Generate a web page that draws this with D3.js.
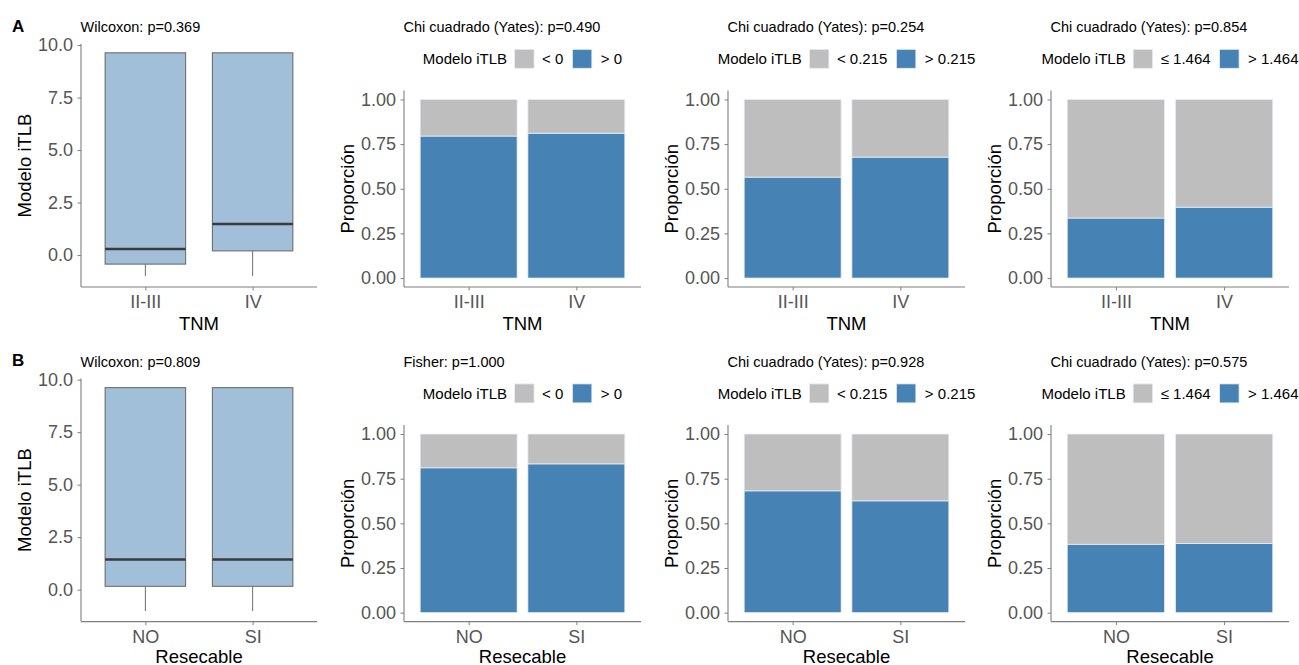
<!DOCTYPE html>
<html>
<head>
<meta charset="utf-8">
<script src="https://cdn.jsdelivr.net/npm/d3@7/dist/d3.min.js"></script>
<style>
  html, body { margin: 0; padding: 0; background: #fff; }
  svg { display: block; font-family: "Liberation Sans", Arial, sans-serif; }
</style>
</head>
<body>
<svg id="chart" width="1299" height="665"></svg>
<script>
// ---- data ----
const rowLabels = ["A", "B"];
const rowXTitles = ["TNM", "Resecable"];
const rowCategories = [["II-III", "IV"], ["NO", "SI"]];

// box summaries per row: [lower whisker, q1, median, q3, upper whisker]
const boxStatsTNM = [[-1.00, -0.43, 0.29, 9.63, 9.63], [-1.00, 0.20, 1.48, 9.63, 9.63]];
const boxStatsResecable = [[-1.02, 0.16, 1.44, 9.62, 9.62], [-1.02, 0.16, 1.44, 9.62, 9.62]];
const boxSubtitles = ["Wilcoxon: p=0.369", "Wilcoxon: p=0.809"];
const boxTicks = [0, 2.5, 5, 7.5, 10];

// proportion of the upper group (blue) for each cut-off, per row
const cutLowLabels = ["< 0", "< 0.215", "\u2264 1.464"];
const cutHighLabels = ["> 0", "> 0.215", "> 1.464"];
const propHighTNM = [[0.795, 0.811], [0.565, 0.677], [0.336, 0.397]];
const propHighResecable = [[0.811, 0.833], [0.682, 0.626], [0.383, 0.387]];
const barSubtitlesTNM = ["Chi cuadrado (Yates): p=0.490", "Chi cuadrado (Yates): p=0.254", "Chi cuadrado (Yates): p=0.854"];
const barSubtitlesResecable = ["Fisher: p=1.000", "Chi cuadrado (Yates): p=0.928", "Chi cuadrado (Yates): p=0.575"];
const barTicks = [0, 0.25, 0.5, 0.75, 1];

// ---- layout ----
const panelLeft = [81, 404, 728, 1051];
const panelRight = [317, 641, 965, 1289];
const rowShift = [0, 334.6];
const boxTop = 44, barTop = 90.5, panelBottom = 287;

const COL_GREY = "#bebebe", COL_BLUE = "#4682b4", COL_BOX = "#a2bfd9";
const AXIS_COL = "#7f7f7f", TICK_TXT = "#555555";

const svg = d3.select("#chart");

function drawAxes(g, x, y, tickVals, fmt, top, bottom, left, right) {
  const ya = g.append("g").attr("transform", `translate(${left},0)`)
    .call(d3.axisLeft(y).tickValues(tickVals).tickFormat(fmt).tickSize(3.5).tickPadding(4.5));
  const xa = g.append("g").attr("transform", `translate(0,${bottom})`)
    .call(d3.axisBottom(x).tickSize(3.5).tickPadding(5));
  [ya, xa].forEach(a => {
    a.select(".domain").remove();
    a.selectAll(".tick line").attr("stroke", AXIS_COL).attr("stroke-width", 1);
    a.selectAll(".tick text").attr("fill", TICK_TXT).style("font-size", "18px").style("font-family", "Liberation Sans, Arial, sans-serif");
  });
  g.append("line").attr("x1", left).attr("x2", left).attr("y1", top).attr("y2", bottom)
    .attr("stroke", AXIS_COL).attr("stroke-width", 1.1);
  g.append("line").attr("x1", left).attr("x2", right).attr("y1", bottom).attr("y2", bottom)
    .attr("stroke", AXIS_COL).attr("stroke-width", 1.1);
}

function axisTitles(g, xTitle, yTitle, top, bottom, left, right) {
  // x title sits just under the tick labels; kept inside the canvas on the bottom row
  g.append("text").attr("x", (left + right) / 2).attr("y", Math.min(bottom + 43, 662.5))
    .attr("text-anchor", "middle").style("font-size", "18.5px").attr("fill", "#000").text(xTitle);
  g.append("text").attr("transform", `translate(${left - 50},${(top + bottom) / 2}) rotate(-90)`)
    .attr("text-anchor", "middle").style("font-size", "18.5px").attr("fill", "#000").text(yTitle);
}

function subtitle(g, text, left, y) {
  g.append("text").attr("x", left - 0.5).attr("y", y).style("font-size", "14.5px").attr("fill", "#000").text(text);
}

function drawBoxPanel(row, stats) {
  const sh = rowShift[row];
  const g = svg.append("g");
  const top = boxTop + sh, bottom = panelBottom + sh;
  const left = panelLeft[0], right = panelRight[0];
  const x = d3.scalePoint().domain(rowCategories[row]).range([left, right]).padding(0.6);
  const y = d3.scaleLinear().domain([-1.52, 10.05]).range([bottom, top]);
  const bw = x.step() * 0.75;

  const boxes = g.selectAll("g.box").data(stats).join("g").attr("class", "box");
  boxes.append("line")
    .attr("x1", (d, i) => x(rowCategories[row][i])).attr("x2", (d, i) => x(rowCategories[row][i]))
    .attr("y1", d => y(d[0])).attr("y2", d => y(d[1])).attr("stroke", "#6e6e6e").attr("stroke-width", 1);
  boxes.append("line")
    .attr("x1", (d, i) => x(rowCategories[row][i])).attr("x2", (d, i) => x(rowCategories[row][i]))
    .attr("y1", d => y(d[4])).attr("y2", d => y(d[3])).attr("stroke", "#6e6e6e").attr("stroke-width", 1);
  boxes.append("rect")
    .attr("x", (d, i) => x(rowCategories[row][i]) - bw / 2).attr("width", bw)
    .attr("y", d => y(d[3])).attr("height", d => y(d[1]) - y(d[3]))
    .attr("fill", COL_BOX).attr("stroke", "#6e6e6e").attr("stroke-width", 1.1);
  boxes.append("line")
    .attr("x1", (d, i) => x(rowCategories[row][i]) - bw / 2).attr("x2", (d, i) => x(rowCategories[row][i]) + bw / 2)
    .attr("y1", d => y(d[2])).attr("y2", d => y(d[2])).attr("stroke", "#3a3a3a").attr("stroke-width", 2.6);

  drawAxes(g, x, y, boxTicks, d3.format(".1f"), top, bottom, left, right);
  axisTitles(g, rowXTitles[row], "Modelo iTLB", top, bottom, left, right);
  subtitle(g, boxSubtitles[row], left, 32.3 + sh);
  g.append("text").attr("x", 12).attr("y", 31.5 + sh).style("font-size", "17px").style("font-weight", "bold")
    .attr("fill", "#000").text(rowLabels[row]);
}

function drawBarPanel(row, col, highProps, sub) {
  const sh = rowShift[row];
  const g = svg.append("g");
  const top = barTop + sh, bottom = panelBottom + sh;
  const left = panelLeft[col], right = panelRight[col];
  const cats = rowCategories[row];
  const x = d3.scalePoint().domain(cats).range([left, right]).padding(0.6);
  const y = d3.scaleLinear().domain([-0.05, 1.05]).range([bottom, top]);
  const bw = x.step() * 0.9;

  const rows = cats.map((c, i) => ({ cat: c, high: highProps[i] }));
  const stack = d3.stack().keys(["high", "low"])
    .value((d, k) => k === "high" ? d.high : 1 - d.high)(rows);
  const colors = { high: COL_BLUE, low: COL_GREY };

  g.selectAll("g.layer").data(stack).join("g").attr("class", "layer")
    .attr("fill", d => colors[d.key])
    .selectAll("rect").data(d => d).join("rect")
    .attr("x", d => x(d.data.cat) - bw / 2).attr("width", bw)
    .attr("y", d => y(d[1])).attr("height", d => y(d[0]) - y(d[1]))
    .attr("stroke", "#e8eef4").attr("stroke-width", 0.8);

  drawAxes(g, x, y, barTicks, d3.format(".2f"), top, bottom, left, right);
  axisTitles(g, rowXTitles[row], "Proporción", top, bottom, left, right);
  subtitle(g, sub, left, 32.3 + sh);

  // legend, centred over the panel
  const lg = g.append("g");
  const items = [
    { type: "title", text: "Modelo iTLB" },
    { type: "key", fill: COL_GREY },
    { type: "label", text: cutLowLabels[col - 1] },
    { type: "key", fill: COL_BLUE },
    { type: "label", text: cutHighLabels[col - 1] }
  ];
  let cx = 0;
  const gaps = [7.5, 8, 9, 9, 0];
  const ky = 58.8 + sh;
  items.forEach((it, i) => {
    if (it.type === "key") {
      lg.append("rect").attr("x", cx).attr("y", ky - 9.5).attr("width", 19.5).attr("height", 19)
        .attr("fill", it.fill).attr("stroke", "#e8eef4").attr("stroke-width", 0.8);
      cx += 19.5;
    } else {
      const t = lg.append("text").attr("x", cx).attr("y", ky + 5.3).style("font-size", "15px")
        .attr("fill", "#000").text(it.text);
      cx += t.node().getComputedTextLength();
    }
    cx += gaps[i];
  });
  lg.attr("transform", `translate(${(left + right) / 2 - cx / 2},0)`);
}

drawBoxPanel(0, boxStatsTNM);
drawBoxPanel(1, boxStatsResecable);
propHighTNM.forEach((p, i) => drawBarPanel(0, i + 1, p, barSubtitlesTNM[i]));
propHighResecable.forEach((p, i) => drawBarPanel(1, i + 1, p, barSubtitlesResecable[i]));
</script>
</body>
</html>
